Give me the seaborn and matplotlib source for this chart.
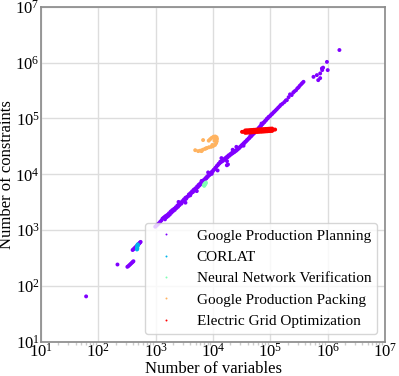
import numpy as np
import pandas as pd
import matplotlib
matplotlib.use("Agg")
import matplotlib.pyplot as plt
import matplotlib.ticker as ticker
import seaborn as sns

# Google Production Planning (number of variables, number of constraints)
planning_x = [61, 215,
              320, 335, 350, 365, 380, 395, 408,
              395, 410, 425, 440, 455, 470, 485, 500, 515, 530, 545,
              980, 1030, 1080, 1130, 1190, 1250, 1310,
              1360, 1420, 1450, 1500, 1550, 1600, 1650, 1700, 1760, 1820, 1880, 1940,
              2000, 2080, 2150, 2230, 2300, 2380, 2450, 2530, 2600, 2700, 2800, 2900,
              3000, 3100, 3200, 3300, 3400, 3520, 3650, 3780, 3900, 4030, 4150, 4300,
              4450, 4600, 4750, 4920, 5100, 5270, 5450, 5620, 5800, 6000, 6200, 6420,
              6650, 6870, 7100, 7350, 7600, 7850, 8100, 8400, 8700, 9000, 9300, 9600,
              9900, 10250, 10600, 10950, 11300, 11700, 12100, 12500, 12900, 13350,
              13800, 14300, 14800, 15300, 15800, 16350, 16900, 17450, 18000, 18600,
              19300, 19950, 20600, 21300, 22000, 22750, 23500, 24350, 25200, 26000,
              26900, 27850, 28800, 29800, 30800, 31850, 32900, 34000, 35200, 36400,
              37600, 38900, 40200, 41600, 43000, 44500, 46000, 47600, 49200, 50900,
              52600, 54400, 56200, 58100, 60100, 62200, 64300, 66500, 68700, 71100,
              73500, 76000, 78600, 81300, 84000, 86900, 89800, 92900, 96000,
              3300, 5200, 8200, 12000, 14000, 17500, 25500, 34000, 17400, 18200,
              2500, 4000, 6300, 9500, 22000, 45000, 70000,
              100000, 104000, 108000, 113000, 118000, 124000, 130000, 137000, 145000,
              152000, 162000, 175000, 186000, 194000, 208000, 220000, 235000, 250000,
              262000, 280000, 295000, 310000, 325000, 345000, 360000, 378000,
              565000, 647000, 739000, 683000, 739000, 802000, 792000, 832000,
              1000000, 970000, 1600000]
planning_y = [65, 242,
              220, 228, 238, 248, 258, 268, 277,
              440, 455, 472, 490, 505, 522, 540, 560, 578, 598, 615,
              1150, 1200, 1260, 1320, 1400, 1480, 1600,
              1650, 1720, 1560, 1800, 1700, 1880, 1790, 2000, 1900, 2150, 2050, 2280,
              2180, 2400, 2300, 2560, 2480, 2750, 2620, 2900, 2800, 3080, 2980, 3300,
              3250, 3550, 3450, 3800, 3650, 3950, 4000, 4350, 4200, 4600, 4550, 4950,
              4800, 5300, 5100, 5600, 5500, 6050, 5900, 6500, 6300, 6900, 6700, 7400,
              7300, 7900, 7800, 8500, 8400, 9100, 9000, 9800, 9700, 10500, 10400, 11200,
              11300, 12000, 12300, 13000, 13400, 14200, 14500, 15400, 15600, 16800,
              16500, 17600, 17300, 18500, 18200, 19500, 19300, 20600, 20200, 21800,
              21500, 23000, 22700, 24200, 23800, 25300, 24900, 26400, 26300, 27600,
              27800, 29200, 29700, 31300, 31800, 33400, 33900, 35800, 36200, 38300,
              38700, 41000, 41500, 43900, 44500, 47200, 47700, 50500, 51300, 54200,
              55000, 58200, 59200, 62300, 63500, 67000, 68500, 72500, 74000, 78500,
              80000, 84500, 86000, 91000, 93000, 99000, 100000, 106000, 108000,
              3100, 5000, 10800, 11700, 19500, 17200, 31000, 32500, 14500, 15000,
              3200, 4200, 7600, 10200, 27500, 49000, 81000,
              112000, 118000, 121000, 128000, 133000, 140000, 147000, 156000, 165000,
              175000, 183000, 196000, 210000, 213000, 240000, 270000, 262000, 290000,
              305000, 320000, 345000, 360000, 385000, 410000, 430000, 453000,
              556000, 597000, 640000, 485000, 527000, 734000, 787000, 813000,
              734000, 1030000, 1680000]

corlat_x = [470, 472, 476, 480, 484, 478, 482, 474, 486]
corlat_y = [450, 480, 505, 530, 555, 465, 520, 495, 545]

nnv_x = [6900, 7100, 7300, 7500, 7200, 7000, 7400]
nnv_y = [6400, 6700, 6900, 7100, 6500, 6200, 6800]

packing_x = [4880, 6700, 5500, 6000, 6600, 7200, 7800, 8500, 9300, 10000, 10800,
             11300, 11600, 11700, 11500, 10900, 10200, 9500, 8900, 8400,
             10600, 11000, 9700, 6300, 7500]
packing_y = [27000, 41000, 26000, 26500, 27500, 28500, 29500, 30500, 31000, 32000,
             33500, 36000, 39000, 43000, 46000, 47500, 47000, 45000, 42500, 40000,
             40000, 44000, 33500, 26000, 29000]

grid_x = [32000, 34000, 36500, 39000, 42000, 45000, 48000, 51500, 55000, 59000,
          63000, 67500, 72000, 77000, 82500, 88000, 94000, 100000, 107000, 114000,
          121000,
          36500, 39000, 42000, 45000, 48000, 51500, 55000, 59000, 63000, 67500,
          72000, 77000, 82500, 88000, 94000, 100000, 107000,
          36500, 39000, 42000, 45000, 48000, 51500, 55000, 59000, 63000, 67500,
          72000, 77000, 82500, 88000, 94000, 100000, 107000]
grid_y = [57500, 57800, 58100, 58400, 58700, 59000, 59300, 59600, 59900, 60200,
          60500, 60800, 61100, 61400, 61700, 62000, 62300, 62600, 62800, 63000,
          63200,
          61000, 61300, 61600, 62000, 62300, 62600, 62900, 63200, 63500, 63800,
          64200, 64500, 64800, 65100, 65400, 65700, 65900,
          55200, 55500, 55800, 56000, 56300, 56600, 56900, 57200, 57500, 57800,
          58000, 58300, 58600, 58900, 59200, 59500, 59700]

names = ["Google Production Planning", "CORLAT", "Neural Network Verification",
         "Google Production Packing", "Electric Grid Optimization"]

df = pd.concat([
    pd.DataFrame({"x": planning_x, "y": planning_y, "set": names[0]}),
    pd.DataFrame({"x": corlat_x, "y": corlat_y, "set": names[1]}),
    pd.DataFrame({"x": nnv_x, "y": nnv_y, "set": names[2]}),
    pd.DataFrame({"x": packing_x, "y": packing_y, "set": names[3]}),
    pd.DataFrame({"x": grid_x, "y": grid_y, "set": names[4]}),
], ignore_index=True)

sns.set_theme(style="whitegrid")
plt.rcParams["font.family"] = ["Liberation Serif", "DejaVu Serif"]
plt.rcParams["axes.edgecolor"] = "#8c8c8c"
plt.rcParams["grid.color"] = "#dddddd"
plt.rcParams["text.color"] = "black"
plt.rcParams["axes.labelcolor"] = "black"
plt.rcParams["xtick.color"] = "black"
plt.rcParams["ytick.color"] = "black"

colors = [plt.get_cmap("rainbow")(v) for v in np.linspace(0, 1, 5)]

fig, ax = plt.subplots(figsize=(3.99, 3.76), dpi=100)
sns.scatterplot(data=df, x="x", y="y", hue="set", hue_order=names,
                palette=colors, s=8, linewidth=0, ax=ax)
ax.set_xscale("log")
ax.set_yscale("log")
ax.set_xlim(10, 1e7)
ax.set_ylim(10, 1e7)
for axis in (ax.xaxis, ax.yaxis):
    axis.set_major_locator(ticker.LogLocator(base=10, numticks=12))
ax.xaxis.set_minor_locator(ticker.LogLocator(base=10, subs=np.arange(2, 10), numticks=12))
ax.set_xlabel("Number of variables", fontsize=12, labelpad=0)
ax.set_ylabel("Number of constraints", fontsize=12, labelpad=0)
ax.tick_params(axis="both", which="major", labelsize=12, length=0, pad=1)
ax.tick_params(axis="x", which="minor", bottom=True, length=2, color="#cccccc")
ax.tick_params(axis="y", which="minor", left=False)
h, l = ax.get_legend_handles_labels()
ax.legend(h, l, loc="lower right", fontsize=11, markerscale=0.5,
          framealpha=0.8, handletextpad=1.0)
fig.subplots_adjust(left=0.103, right=0.965, top=0.982, bottom=0.091)
fig.savefig("out.png", dpi=100)
